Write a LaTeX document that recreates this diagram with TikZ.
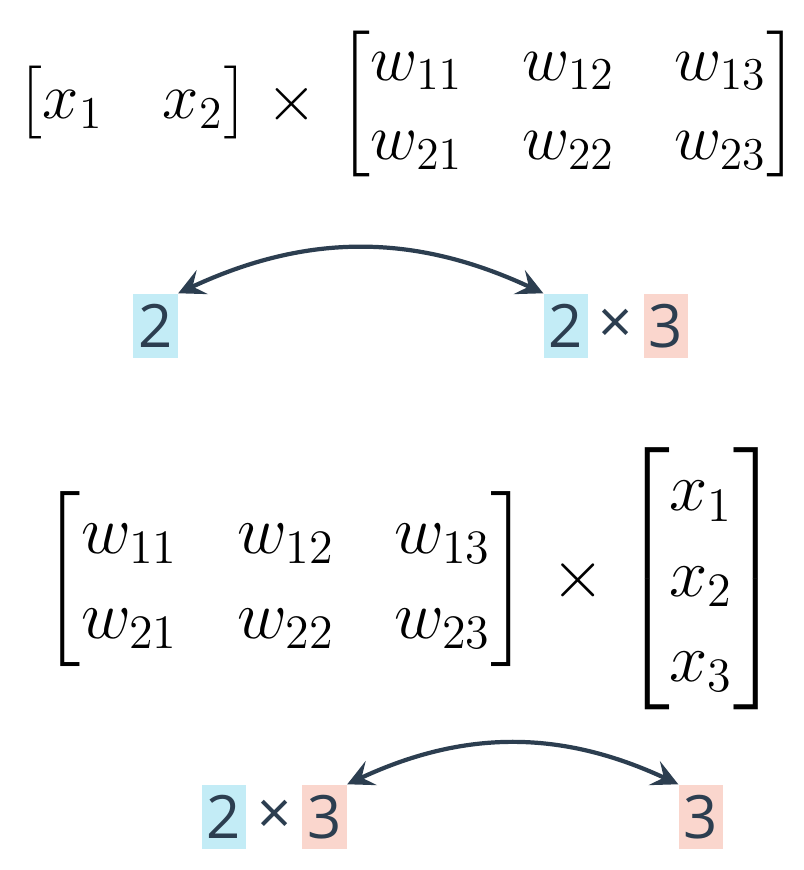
\RequirePackage{fix-cm}
\documentclass[tikz,border=0pt]{standalone}
\usepackage{amsmath}
\usepackage{fontspec}
\usetikzlibrary{arrows.meta}
\newfontfamily\numfont{Open Sans}
\definecolor{slate}{HTML}{2C3E50}
\definecolor{dimblue}{HTML}{C3ECF6}
\definecolor{dimred}{HTML}{FAD6CD}
\tikzset{dimbox/.style={
  rectangle,
  text=slate,inner sep=0pt,
  minimum width=0.44cm,minimum height=0.64cm,
  font=\numfont\fontsize{17}{20}\selectfont}}
\tikzset{mathtop/.style={inner sep=0pt,font=\fontsize{18.5}{22.7}\selectfont}}
\tikzset{mathbot/.style={inner sep=0pt,font=\fontsize{19.5}{24.2}\selectfont}}
\tikzset{swap/.style={<->,draw=slate,line width=1.2pt,bend left=25}}
\tikzset{>={Stealth[length=7.5pt,width=7.5pt,inset=3pt]}}
\setlength{\arraycolsep}{8.5pt}

\begin{document}
\begin{tikzpicture}[x={(0.01cm,0cm)},y={(0cm,-0.01cm)}]
  \useasboundingbox (0,0) rectangle (804,870);
  % x W (row vector first)
  \node[mathtop] (xrow) at (133,102.5) {$\begin{bmatrix} x_1 & x_2 \end{bmatrix}$};
  \node[mathtop] (mul1) at (292,104) {$\times$};
  \node[mathtop] (wtop) at (568.5,104)
    {$\begin{bmatrix} w_{11} & w_{12} & w_{13}\\ w_{21} & w_{22} & w_{23} \end{bmatrix}$};
  % W x (column vector last)
  \node[mathbot] (wbot) at (286,579)
    {$\begin{bmatrix} w_{11} & w_{12} & w_{13}\\ w_{21} & w_{22} & w_{23} \end{bmatrix}$};
  \node[mathbot] (mul2) at (578,580) {$\times$};
  \node[mathbot] (xcol) at (701.5,579) {$\begin{bmatrix} x_1\\ x_2\\ x_3 \end{bmatrix}$};
  % shapes
  \foreach \n/\p/\c/\l in {
      rowlen/{(155.5,326)}/dimblue/2,
      toprows/{(566,326)}/dimblue/2,
      topcols/{(666,326)}/dimred/3,
      botrows/{(224,817)}/dimblue/2,
      botcols/{(324.5,817)}/dimred/3,
      collen/{(701,817)}/dimred/3 }
    \node[dimbox,fill=\c] (\n) at \p {\l};
  \foreach \m/\n in {toprows/topcols,botrows/botcols}
    \path (\m) -- node[dimbox] (by\m) {×} (\n);
  \draw[swap] (rowlen.north east) to (toprows.north west);
  \draw[swap] (botcols.north east) to (collen.north west);
\end{tikzpicture}
\end{document}
